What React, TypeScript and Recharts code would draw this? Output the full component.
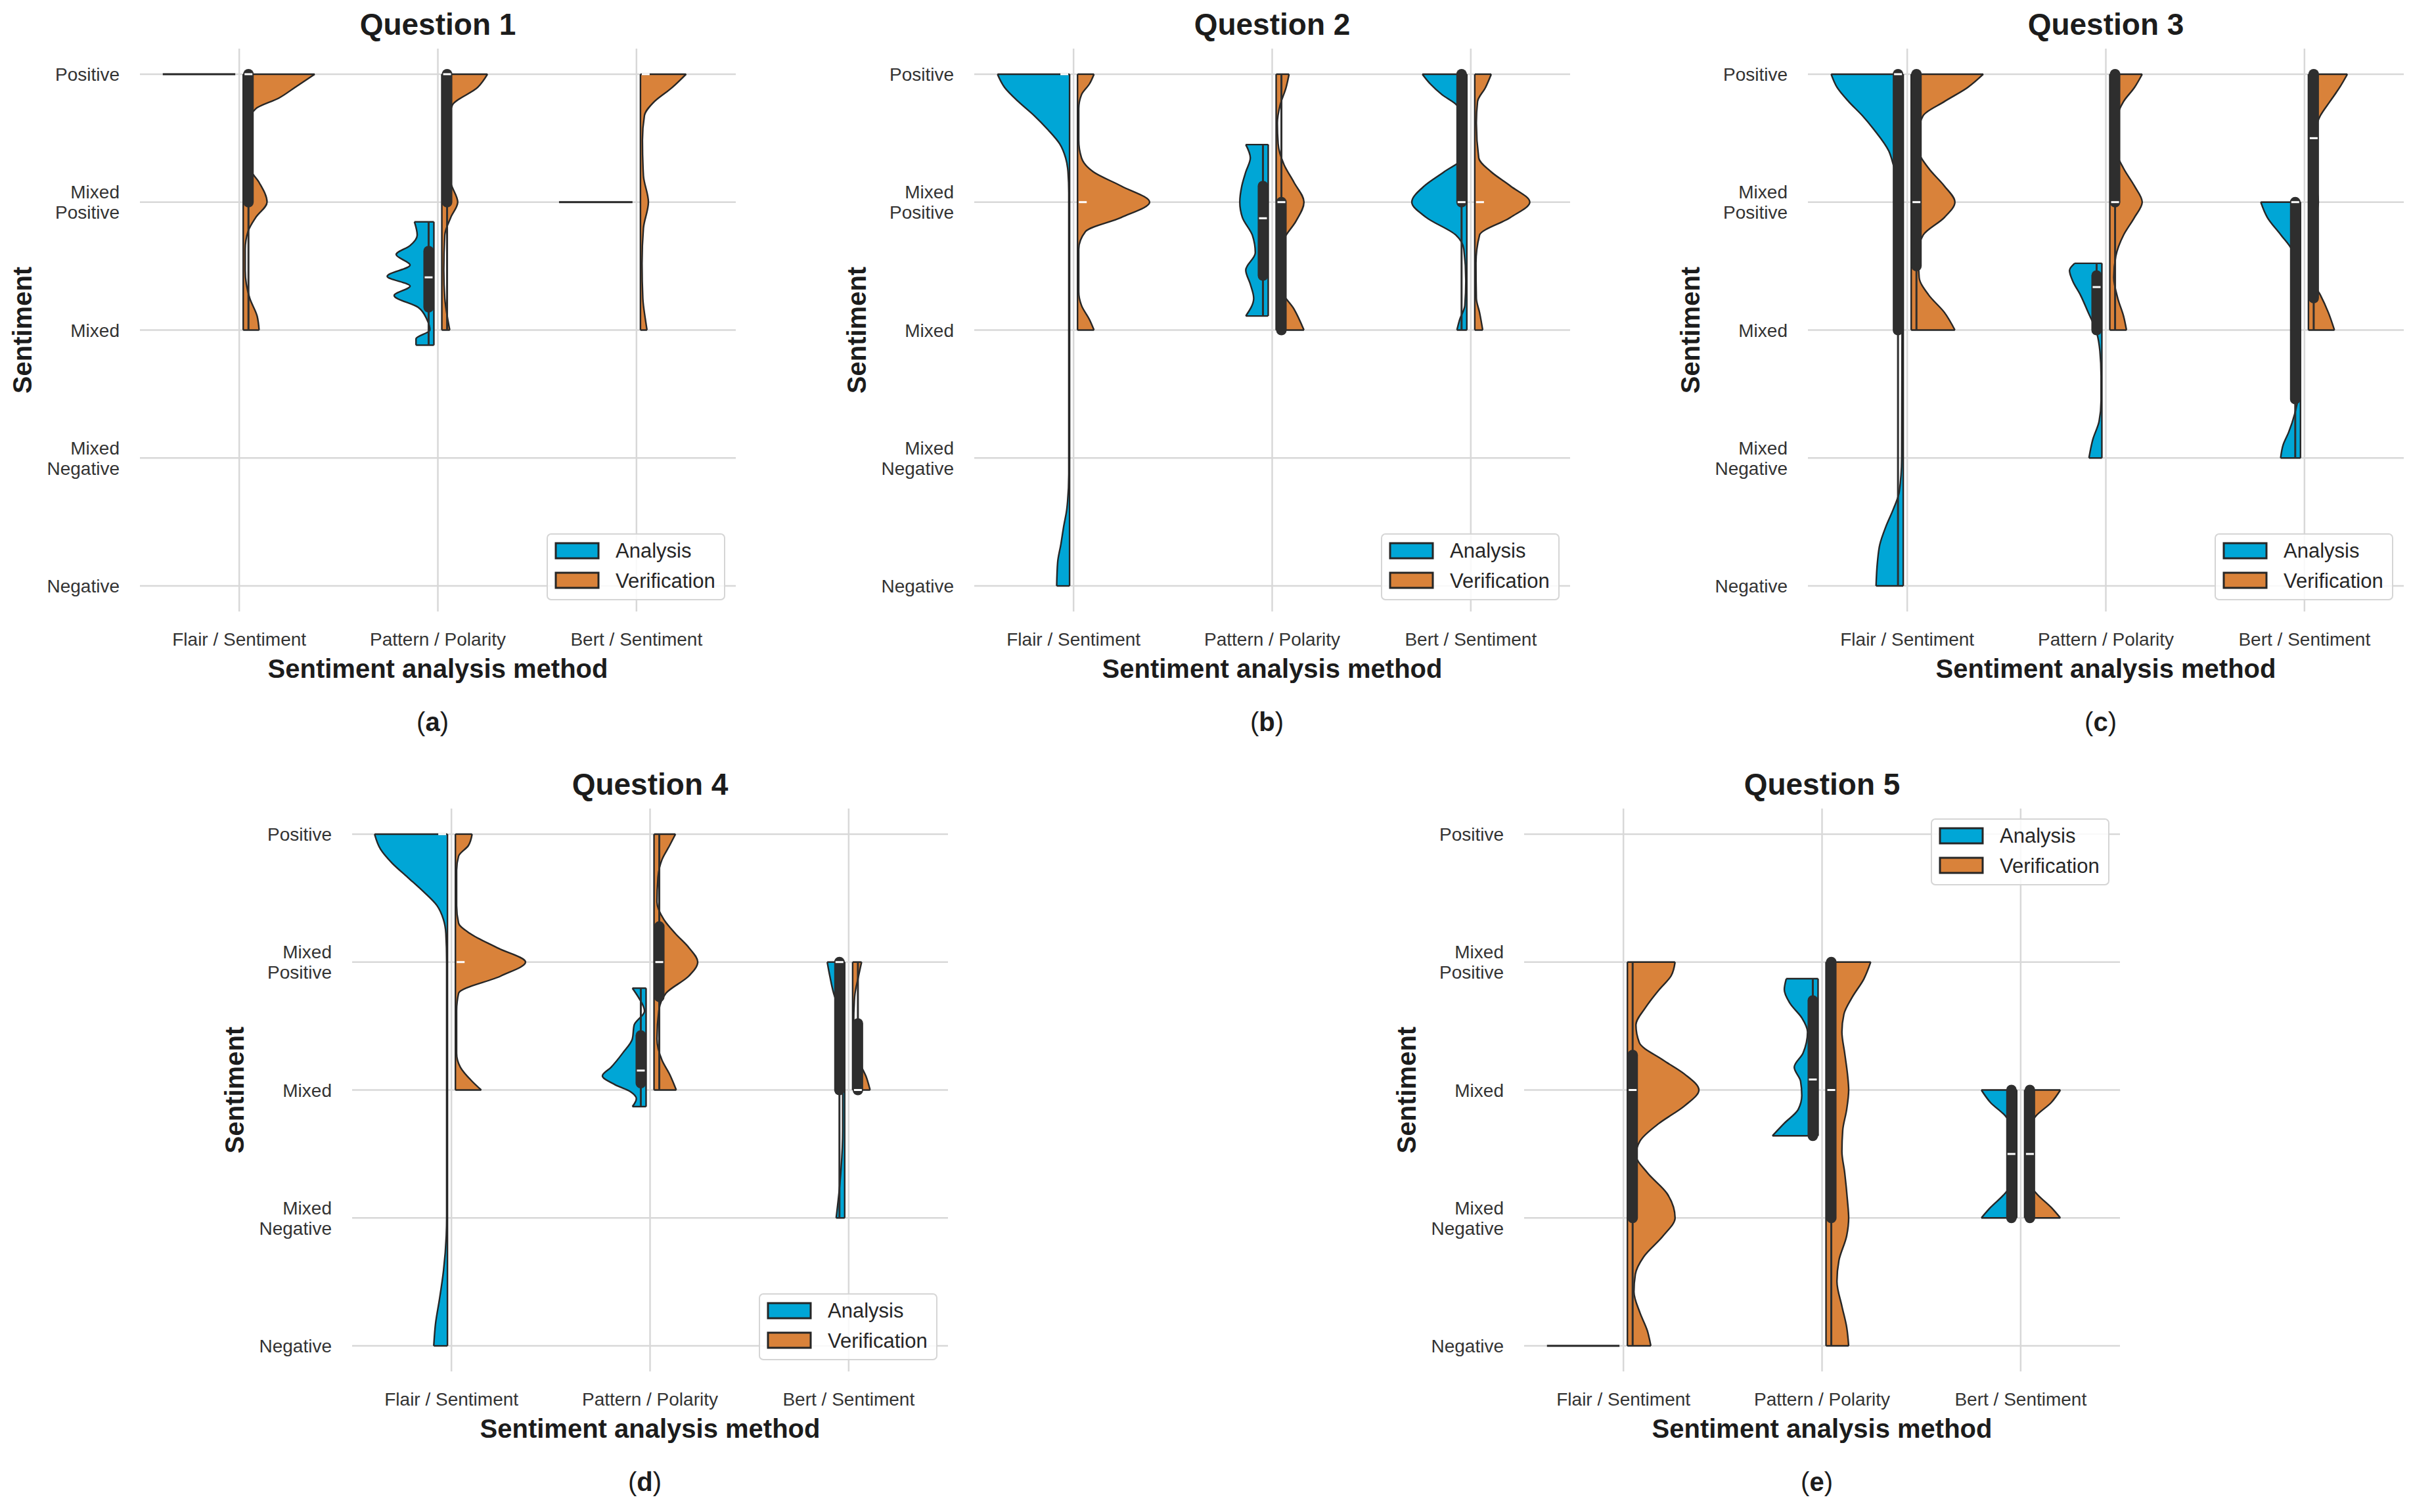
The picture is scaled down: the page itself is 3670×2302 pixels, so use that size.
import React from "react";
import { ComposedChart, Area, XAxis, YAxis, CartesianGrid, ReferenceLine } from "recharts";

const METHODS = ["Flair / Sentiment", "Pattern / Polarity", "Bert / Sentiment"];
const SERIES = ["Analysis", "Verification"];
const QUESTIONS = ["Question 1", "Question 2", "Question 3", "Question 4", "Question 5"];
const TAGS = ["a", "b", "c", "d", "e"];
const SENTIMENT_VALUES = [1, 0.5, 0, -0.5, -1];
const SENTIMENT_LABELS = [["Positive"], ["Mixed", "Positive"], ["Mixed"], ["Mixed", "Negative"], ["Negative"]];

// violin half-widths: [sentiment, width] per method (Flair, Pattern, Bert)
const Q1_ANALYSIS = [
  [[1, 0.365]],
  [[0.423, 0.098], [0.371, 0.084], [0.33, 0.12], [0.295, 0.19], [0.254, 0.12], [0.21, 0.235], [0.172, 0.12], [0.135, 0.2], [0.089, 0.08], [0.041, 0.035], [0, 0.02], [-0.034, 0.09], [-0.059, 0.09]],
  [[0.5, 0.37]],
];
const Q1_VERIFICATION = [
  [[1, 0.36], [0.948, 0.26], [0.907, 0.18], [0.865, 0.063], [0.81, 0.024], [0.73, 0.02], [0.632, 0.033], [0.577, 0.08], [0.5, 0.12], [0.44, 0.063], [0.385, 0.024], [0.316, 0.01], [0.233, 0.01], [0.124, 0.033], [0.055, 0.07], [0, 0.08]],
  [[1, 0.23], [0.948, 0.18], [0.879, 0.053], [0.742, 0.015], [0.632, 0.02], [0.563, 0.05], [0.5, 0.08], [0.44, 0.045], [0.371, 0.015], [0.233, 0.01], [0.124, 0.015], [0.041, 0.03], [0, 0.04]],
  [[1, 0.23], [0.948, 0.16], [0.893, 0.07], [0.838, 0.02], [0.742, 0.01], [0.604, 0.015], [0.5, 0.04], [0.398, 0.015], [0.26, 0.008], [0.124, 0.012], [0.041, 0.025], [0, 0.033]],
];
const Q2_ANALYSIS = [
  [[1, 0.363], [0.948, 0.327], [0.893, 0.258], [0.838, 0.178], [0.783, 0.109], [0.728, 0.05], [0.673, 0.02], [0.618, 0.008], [0.536, 0.004], [-0.563, 0.004], [-0.7, 0.014], [-0.769, 0.03], [-0.838, 0.044], [-0.907, 0.06], [-1, 0.065]],
  [[0.725, 0.113], [0.673, 0.09], [0.618, 0.113], [0.563, 0.133], [0.5, 0.143], [0.44, 0.13], [0.371, 0.08], [0.302, 0.065], [0.234, 0.113], [0.179, 0.09], [0.124, 0.073], [0.055, 0.113]],
  [[1, 0.224], [0.962, 0.184], [0.92, 0.125], [0.879, 0.05], [0.81, 0.01], [0.728, 0.01], [0.673, 0.02], [0.618, 0.115], [0.563, 0.214], [0.5, 0.277], [0.44, 0.204], [0.371, 0.055], [0.316, 0.015], [0.192, 0.005], [0.096, 0.01], [0.041, 0.036], [0, 0.05]],
];
const Q2_VERIFICATION = [
  [[1, 0.083], [0.962, 0.06], [0.92, 0.02], [0.865, 0.006], [0.742, 0.006], [0.673, 0.02], [0.618, 0.08], [0.563, 0.22], [0.5, 0.363], [0.44, 0.22], [0.385, 0.04], [0.316, 0.006], [0.151, 0.006], [0.096, 0.02], [0.041, 0.06], [0, 0.083]],
  [[1, 0.065], [0.948, 0.05], [0.879, 0.02], [0.81, 0.006], [0.728, 0.01], [0.646, 0.04], [0.577, 0.09], [0.5, 0.14], [0.426, 0.1], [0.357, 0.04], [0.261, 0.014], [0.151, 0.03], [0.082, 0.09], [0, 0.14]],
  [[1, 0.083], [0.948, 0.054], [0.893, 0.014], [0.81, 0.008], [0.673, 0.02], [0.618, 0.083], [0.563, 0.18], [0.5, 0.277], [0.44, 0.18], [0.371, 0.024], [0.261, 0.006], [0.124, 0.008], [0.069, 0.024], [0, 0.04]],
];
const Q3_ANALYSIS = [
  [[1, 0.363], [0.948, 0.333], [0.893, 0.275], [0.838, 0.206], [0.783, 0.147], [0.7, 0.073], [0.646, 0.05], [0.563, 0.02], [0.4, 0.008], [0, 0.006], [-0.5, 0.008], [-0.632, 0.02], [-0.7, 0.05], [-0.769, 0.088], [-0.838, 0.118], [-0.907, 0.13], [-1, 0.137]],
  [[0.261, 0.137], [0.233, 0.163], [0.192, 0.147], [0.137, 0.108], [0.069, 0.069], [0, 0.03], [-0.082, 0.01], [-0.179, 0.004], [-0.275, 0.004], [-0.357, 0.014], [-0.426, 0.045], [-0.5, 0.065]],
  [[0.5, 0.2], [0.44, 0.167], [0.371, 0.098], [0.316, 0.045], [0.233, 0.02], [0.124, 0.01], [-0.014, 0.008], [-0.151, 0.008], [-0.26, 0.012], [-0.33, 0.03], [-0.4, 0.06], [-0.45, 0.088], [-0.5, 0.1]],
];
const Q3_VERIFICATION = [
  [[1, 0.363], [0.948, 0.284], [0.893, 0.167], [0.838, 0.06], [0.783, 0.04], [0.7, 0.04], [0.632, 0.088], [0.563, 0.167], [0.5, 0.22], [0.44, 0.167], [0.371, 0.06], [0.302, 0.035], [0.206, 0.04], [0.137, 0.088], [0.069, 0.167], [0, 0.22]],
  [[1, 0.163], [0.948, 0.124], [0.893, 0.069], [0.838, 0.04], [0.7, 0.033], [0.632, 0.069], [0.563, 0.124], [0.5, 0.163], [0.44, 0.124], [0.371, 0.069], [0.288, 0.03], [0.206, 0.02], [0.124, 0.04], [0.055, 0.069], [0, 0.084]],
  [[1, 0.196], [0.948, 0.157], [0.893, 0.108], [0.838, 0.06], [0.77, 0.03], [0.673, 0.015], [0.5, 0.05], [0.398, 0.02], [0.26, 0.015], [0.192, 0.02], [0.137, 0.06], [0.069, 0.1], [0, 0.131]],
];
const Q4_ANALYSIS = [
  [[1, 0.367], [0.941, 0.337], [0.886, 0.278], [0.831, 0.2], [0.776, 0.122], [0.721, 0.053], [0.666, 0.02], [0.611, 0.008], [0.5, 0.004], [-0.5, 0.004], [-0.57, 0.006], [-0.707, 0.02], [-0.817, 0.04], [-0.913, 0.06], [-1, 0.069]],
  [[0.398, 0.069], [0.364, 0.04], [0.309, 0.008], [0.254, 0.06], [0.2, 0.069], [0.144, 0.118], [0.089, 0.176], [0.055, 0.22], [0.021, 0.157], [-0.007, 0.078], [-0.034, 0.049], [-0.065, 0.069]],
  [[0.5, 0.088], [0.446, 0.075], [0.364, 0.05], [0.309, 0.02], [0.2, 0.006], [0, 0.01], [-0.158, 0.01], [-0.364, 0.024], [-0.5, 0.043]],
];
const Q4_VERIFICATION = [
  [[1, 0.084], [0.955, 0.065], [0.914, 0.016], [0.859, 0.006], [0.721, 0.006], [0.652, 0.016], [0.611, 0.075], [0.556, 0.21], [0.5, 0.353], [0.446, 0.23], [0.378, 0.016], [0.309, 0.006], [0.144, 0.006], [0.089, 0.025], [0.034, 0.084], [0, 0.13]],
  [[1, 0.108], [0.955, 0.078], [0.9, 0.04], [0.831, 0.02], [0.735, 0.015], [0.666, 0.05], [0.611, 0.108], [0.556, 0.176], [0.5, 0.22], [0.446, 0.176], [0.378, 0.06], [0.309, 0.024], [0.2, 0.015], [0.117, 0.04], [0.062, 0.078], [0, 0.112]],
  [[0.5, 0.045], [0.446, 0.03], [0.364, 0.01], [0.254, 0.005], [0.117, 0.03], [0.048, 0.07], [0, 0.088]],
];
const Q5_ANALYSIS = [
  [[-1, 0.365]],
  [[0.435, 0.16], [0.392, 0.17], [0.337, 0.14], [0.282, 0.082], [0.227, 0.053], [0.144, 0.076], [0.089, 0.12], [0.034, 0.088], [-0.021, 0.082], [-0.076, 0.1], [-0.13, 0.17], [-0.179, 0.23]],
  [[0, 0.178], [-0.048, 0.133], [-0.103, 0.055], [-0.158, 0.015], [-0.25, 0.008], [-0.35, 0.015], [-0.405, 0.06], [-0.46, 0.133], [-0.5, 0.178]],
];
const Q5_VERIFICATION = [
  [[0.5, 0.24], [0.446, 0.22], [0.392, 0.16], [0.323, 0.092], [0.254, 0.043], [0.185, 0.06], [0.117, 0.18], [0.062, 0.288], [0, 0.36], [-0.062, 0.288], [-0.13, 0.16], [-0.2, 0.063], [-0.254, 0.043], [-0.323, 0.1], [-0.405, 0.2], [-0.5, 0.24], [-0.57, 0.18], [-0.652, 0.082], [-0.72, 0.04], [-0.789, 0.033], [-0.87, 0.063], [-0.94, 0.1], [-1, 0.118]],
  [[0.5, 0.225], [0.433, 0.19], [0.364, 0.133], [0.296, 0.09], [0.227, 0.08], [0.144, 0.094], [0.062, 0.108], [0, 0.114], [-0.076, 0.104], [-0.158, 0.084], [-0.24, 0.08], [-0.323, 0.094], [-0.433, 0.108], [-0.5, 0.114], [-0.57, 0.104], [-0.666, 0.065], [-0.748, 0.055], [-0.845, 0.08], [-0.927, 0.104], [-1, 0.114]],
  [[0, 0.18], [-0.048, 0.135], [-0.103, 0.055], [-0.158, 0.015], [-0.25, 0.008], [-0.35, 0.015], [-0.405, 0.06], [-0.46, 0.135], [-0.5, 0.18]],
];

// inner box stats: [whisker low, q1, median, q3, whisker high], null = none
const Q1_BOX_ANALYSIS = [null, [-0.059, 0.089, 0.206, 0.309, 0.423], null];
const Q1_BOX_VERIFICATION = [[0, 0.5, 1, 1, 1], [0, 0.5, 1, 1, 1], [1, 1, 1, 1, 1]];
const Q2_BOX_ANALYSIS = [[1, 1, 1, 1, 1], [0.055, 0.213, 0.437, 0.563, 0.725], [0, 0.5, 0.5, 1, 1]];
const Q2_BOX_VERIFICATION = [[0.5, 0.5, 0.5, 0.5, 0.5], [0, 0, 0.5, 0.5, 1], [0.5, 0.5, 0.5, 0.5, 0.5]];
const Q3_BOX_ANALYSIS = [[-1, 0, 1, 1, 1], [0, 0, 0.168, 0.213, 0.261], [-0.5, -0.27, 0.5, 0.5, 0.5]];
const Q3_BOX_VERIFICATION = [[0, 0.25, 0.5, 1, 1], [0, 0.5, 0.5, 1, 1], [0, 0.125, 0.75, 1, 1]];
const Q4_BOX_ANALYSIS = [[1, 1, 1, 1, 1], [-0.065, 0.027, 0.076, 0.213, 0.398], [-0.5, 0, 0.5, 0.5, 0.5]];
const Q4_BOX_VERIFICATION = [[0.5, 0.5, 0.5, 0.5, 0.5], [0, 0.364, 0.5, 0.639, 1], [0, 0, 0, 0.26, 0.5]];
const Q5_BOX_ANALYSIS = [null, [-0.179, -0.179, 0.041, 0.35, 0.435], [-0.5, -0.5, -0.25, 0, 0]];
const Q5_BOX_VERIFICATION = [[-1, -0.5, 0, 0.137, 0.5], [-1, -0.5, 0, 0.5, 0.5], [-0.5, -0.5, -0.25, 0, 0]];

const ANALYSIS = [Q1_ANALYSIS, Q2_ANALYSIS, Q3_ANALYSIS, Q4_ANALYSIS, Q5_ANALYSIS];
const VERIFICATION = [Q1_VERIFICATION, Q2_VERIFICATION, Q3_VERIFICATION, Q4_VERIFICATION, Q5_VERIFICATION];
const BOX_ANALYSIS = [Q1_BOX_ANALYSIS, Q2_BOX_ANALYSIS, Q3_BOX_ANALYSIS, Q4_BOX_ANALYSIS, Q5_BOX_ANALYSIS];
const BOX_VERIFICATION = [Q1_BOX_VERIFICATION, Q2_BOX_VERIFICATION, Q3_BOX_VERIFICATION, Q4_BOX_VERIFICATION, Q5_BOX_VERIFICATION];

// layout (plot area top-left corners on the page)
const PANEL_POS = [
  { x: 213, y: 74, legend: "lower" },
  { x: 1483, y: 74, legend: "lower" },
  { x: 2752, y: 74, legend: "lower" },
  { x: 536, y: 1231, legend: "lower" },
  { x: 2320, y: 1231, legend: "upper" },
];
const PLOT_W = 907;
const PLOT_H = 857;
const AXIS_W = 220;
const TOP = 90;
const RIGHT = 10;
const XAXIS_H = 200;

const BLUE = "#00a6d6";
const ORANGE = "#d9823a";
const COLORS = [BLUE, ORANGE];
const EDGE = "#262626";
const BOX = "#2e2e2e";
const GRID = "#d8d8d8";
const FONT = '"Liberation Sans", Arial, Helvetica, sans-serif';

const UNIT = PLOT_W / 3; // px per category
const GAP = 0.02;
const BOX_PX = 16;
const BOX_OFF = GAP + BOX_PX / 2 / UNIT;
const MED_HALF = 6 / UNIT;

const SentimentTick = (props: any) => {
  const { x, y, payload } = props;
  const idx = SENTIMENT_VALUES.indexOf(payload.value);
  const lines = SENTIMENT_LABELS[idx] || [];
  const n = lines.length;
  return (
    <text textAnchor="end" fontSize={28} fill="#333" fontFamily={FONT}>
      {lines.map((l, i) => (
        <tspan key={i} x={x - 31} y={y + (i - (n - 1) / 2) * 31} dy="0.36em">
          {l}
        </tspan>
      ))}
    </text>
  );
};

const MethodTick = (props: any) => {
  const { x, y, payload } = props;
  return (
    <text x={x} y={y + 52} textAnchor="middle" fontSize={28} fill="#333" fontFamily={FONT}>
      {METHODS[payload.value]}
    </text>
  );
};

function buildMarks(q: number) {
  const violins: React.ReactNode[] = [];
  const boxes: React.ReactNode[] = [];
  [ANALYSIS[q], VERIFICATION[q]].forEach((profiles, s) => {
    const side = s === 0 ? -1 : 1;
    profiles.forEach((prof, m) => {
      const inner = m + side * GAP;
      const key = `${q}-${s}-${m}`;
      if (prof.length === 1) {
        const [y, d] = prof[0];
        violins.push(
          <ReferenceLine key={`deg-${key}`} segment={[{ x: inner, y }, { x: inner + side * d, y }]} stroke={EDGE} strokeWidth={3} ifOverflow="visible" />
        );
        return;
      }
      const rows = [...prof]
        .sort((a, b) => a[0] - b[0])
        .map(([y, d]) => ({ y, v: side < 0 ? [inner - d, inner] : [inner, inner + d] }));
      violins.push(
        <Area
          key={`v-${key}`}
          data={rows}
          dataKey="v"
          type="monotone"
          fill={COLORS[s]}
          fillOpacity={1}
          stroke={EDGE}
          strokeWidth={2.4}
          dot={false}
          activeDot={false}
          isAnimationActive={false}
        />
      );
      [rows[0], rows[rows.length - 1]].forEach((r, k) =>
        violins.push(
          <ReferenceLine key={`end-${key}-${k}`} segment={[{ x: r.v[0], y: r.y }, { x: r.v[1], y: r.y }]} stroke={EDGE} strokeWidth={2.4} ifOverflow="visible" />
        )
      );
    });
    const stats = s === 0 ? BOX_ANALYSIS[q] : BOX_VERIFICATION[q];
    stats.forEach((b, m) => {
      if (!b) return;
      const [lo, q1, med, q3, hi] = b;
      const cx = m + side * BOX_OFF;
      const key = `${q}-${s}-${m}`;
      if (hi > lo)
        boxes.push(<ReferenceLine key={`w-${key}`} segment={[{ x: cx, y: lo }, { x: cx, y: hi }]} stroke={BOX} strokeWidth={3} ifOverflow="visible" />);
      if (q3 > q1)
        boxes.push(
          <ReferenceLine key={`b-${key}`} segment={[{ x: cx, y: q1 }, { x: cx, y: q3 }]} stroke={BOX} strokeWidth={BOX_PX} strokeLinecap="round" ifOverflow="visible" />
        );
      boxes.push(
        <ReferenceLine key={`m-${key}`} segment={[{ x: cx - MED_HALF, y: med }, { x: cx + MED_HALF, y: med }]} stroke="#ffffff" strokeWidth={3} ifOverflow="visible" />
      );
    });
  });
  return [...violins, ...boxes];
}

function Panel({ q }: { q: number }) {
  const pos = PANEL_POS[q];
  return (
    <div style={{ position: "absolute", left: pos.x - AXIS_W, top: pos.y - TOP }}>
      <ComposedChart
        width={PLOT_W + AXIS_W + RIGHT}
        height={PLOT_H + TOP + XAXIS_H}
        layout="vertical"
        margin={{ top: TOP, right: RIGHT, bottom: 0, left: 0 }}
      >
        <CartesianGrid stroke={GRID} strokeWidth={2.5} syncWithTicks />
        <XAxis
          type="number"
          domain={[-0.5, 2.5]}
          ticks={[0, 1, 2]}
          interval={0}
          allowDataOverflow
          axisLine={false}
          tickLine={false}
          tickSize={0}
          tickMargin={0}
          height={XAXIS_H}
          tick={<MethodTick />}
        />
        <YAxis
          type="number"
          dataKey="y"
          domain={[-1.1, 1.1]}
          ticks={SENTIMENT_VALUES}
          interval={0}
          reversed
          allowDataOverflow
          axisLine={false}
          tickLine={false}
          tickSize={0}
          tickMargin={0}
          width={AXIS_W}
          tick={<SentimentTick />}
        />
        {buildMarks(q)}
      </ComposedChart>
    </div>
  );
}

function LegendBox({ x, y }: { x: number; y: number }) {
  return (
    <g>
      <rect x={x} y={y} width={270} height={100} rx={6} fill="#ffffff" fillOpacity={0.85} stroke="#d5d5d5" strokeWidth={2} />
      {SERIES.map((name, i) => (
        <g key={name}>
          <rect x={x + 13} y={y + 14 + i * 45} width={65} height={23} fill={COLORS[i]} stroke={EDGE} strokeWidth={3} />
          <text x={x + 104} y={y + 36 + i * 46} fontSize={31} fill="#262626" fontFamily={FONT}>
            {name}
          </text>
        </g>
      ))}
    </g>
  );
}

function Overlay() {
  return (
    <svg width={3670} height={2302} style={{ position: "absolute", left: 0, top: 0, pointerEvents: "none" }}>
      {PANEL_POS.map((p, q) => {
        const cx = p.x + PLOT_W / 2;
        const cy = p.y + PLOT_H / 2;
        const bottom = p.y + PLOT_H;
        const right = p.x + PLOT_W;
        const ly = p.legend === "upper" ? p.y + 16 : bottom - 18 - 100;
        return (
          <g key={q} fontFamily={FONT}>
            <text x={cx} y={p.y - 21} textAnchor="middle" fontSize={46} fontWeight="bold" fill="#1c1c1c">
              {QUESTIONS[q]}
            </text>
            <text transform={`translate(${p.x - 165},${cy}) rotate(-90)`} textAnchor="middle" fontSize={40} fontWeight="bold" fill="#1c1c1c">
              Sentiment
            </text>
            <text x={cx} y={bottom + 101} textAnchor="middle" fontSize={40} fontWeight="bold" fill="#1c1c1c">
              Sentiment analysis method
            </text>
            <text x={cx - 8} y={bottom + 182} textAnchor="middle" fontSize={40} fill="#1c1c1c">
              <tspan>(</tspan>
              <tspan fontWeight="bold">{TAGS[q]}</tspan>
              <tspan>)</tspan>
            </text>
            <LegendBox x={right - 17 - 270} y={ly} />
          </g>
        );
      })}
    </svg>
  );
}

export default function App() {
  return (
    <div style={{ position: "absolute", left: 0, top: 0, width: 3670, height: 2302, background: "#ffffff", overflow: "hidden" }}>
      {QUESTIONS.map((_, q) => (
        <Panel key={q} q={q} />
      ))}
      <Overlay />
    </div>
  );
}
